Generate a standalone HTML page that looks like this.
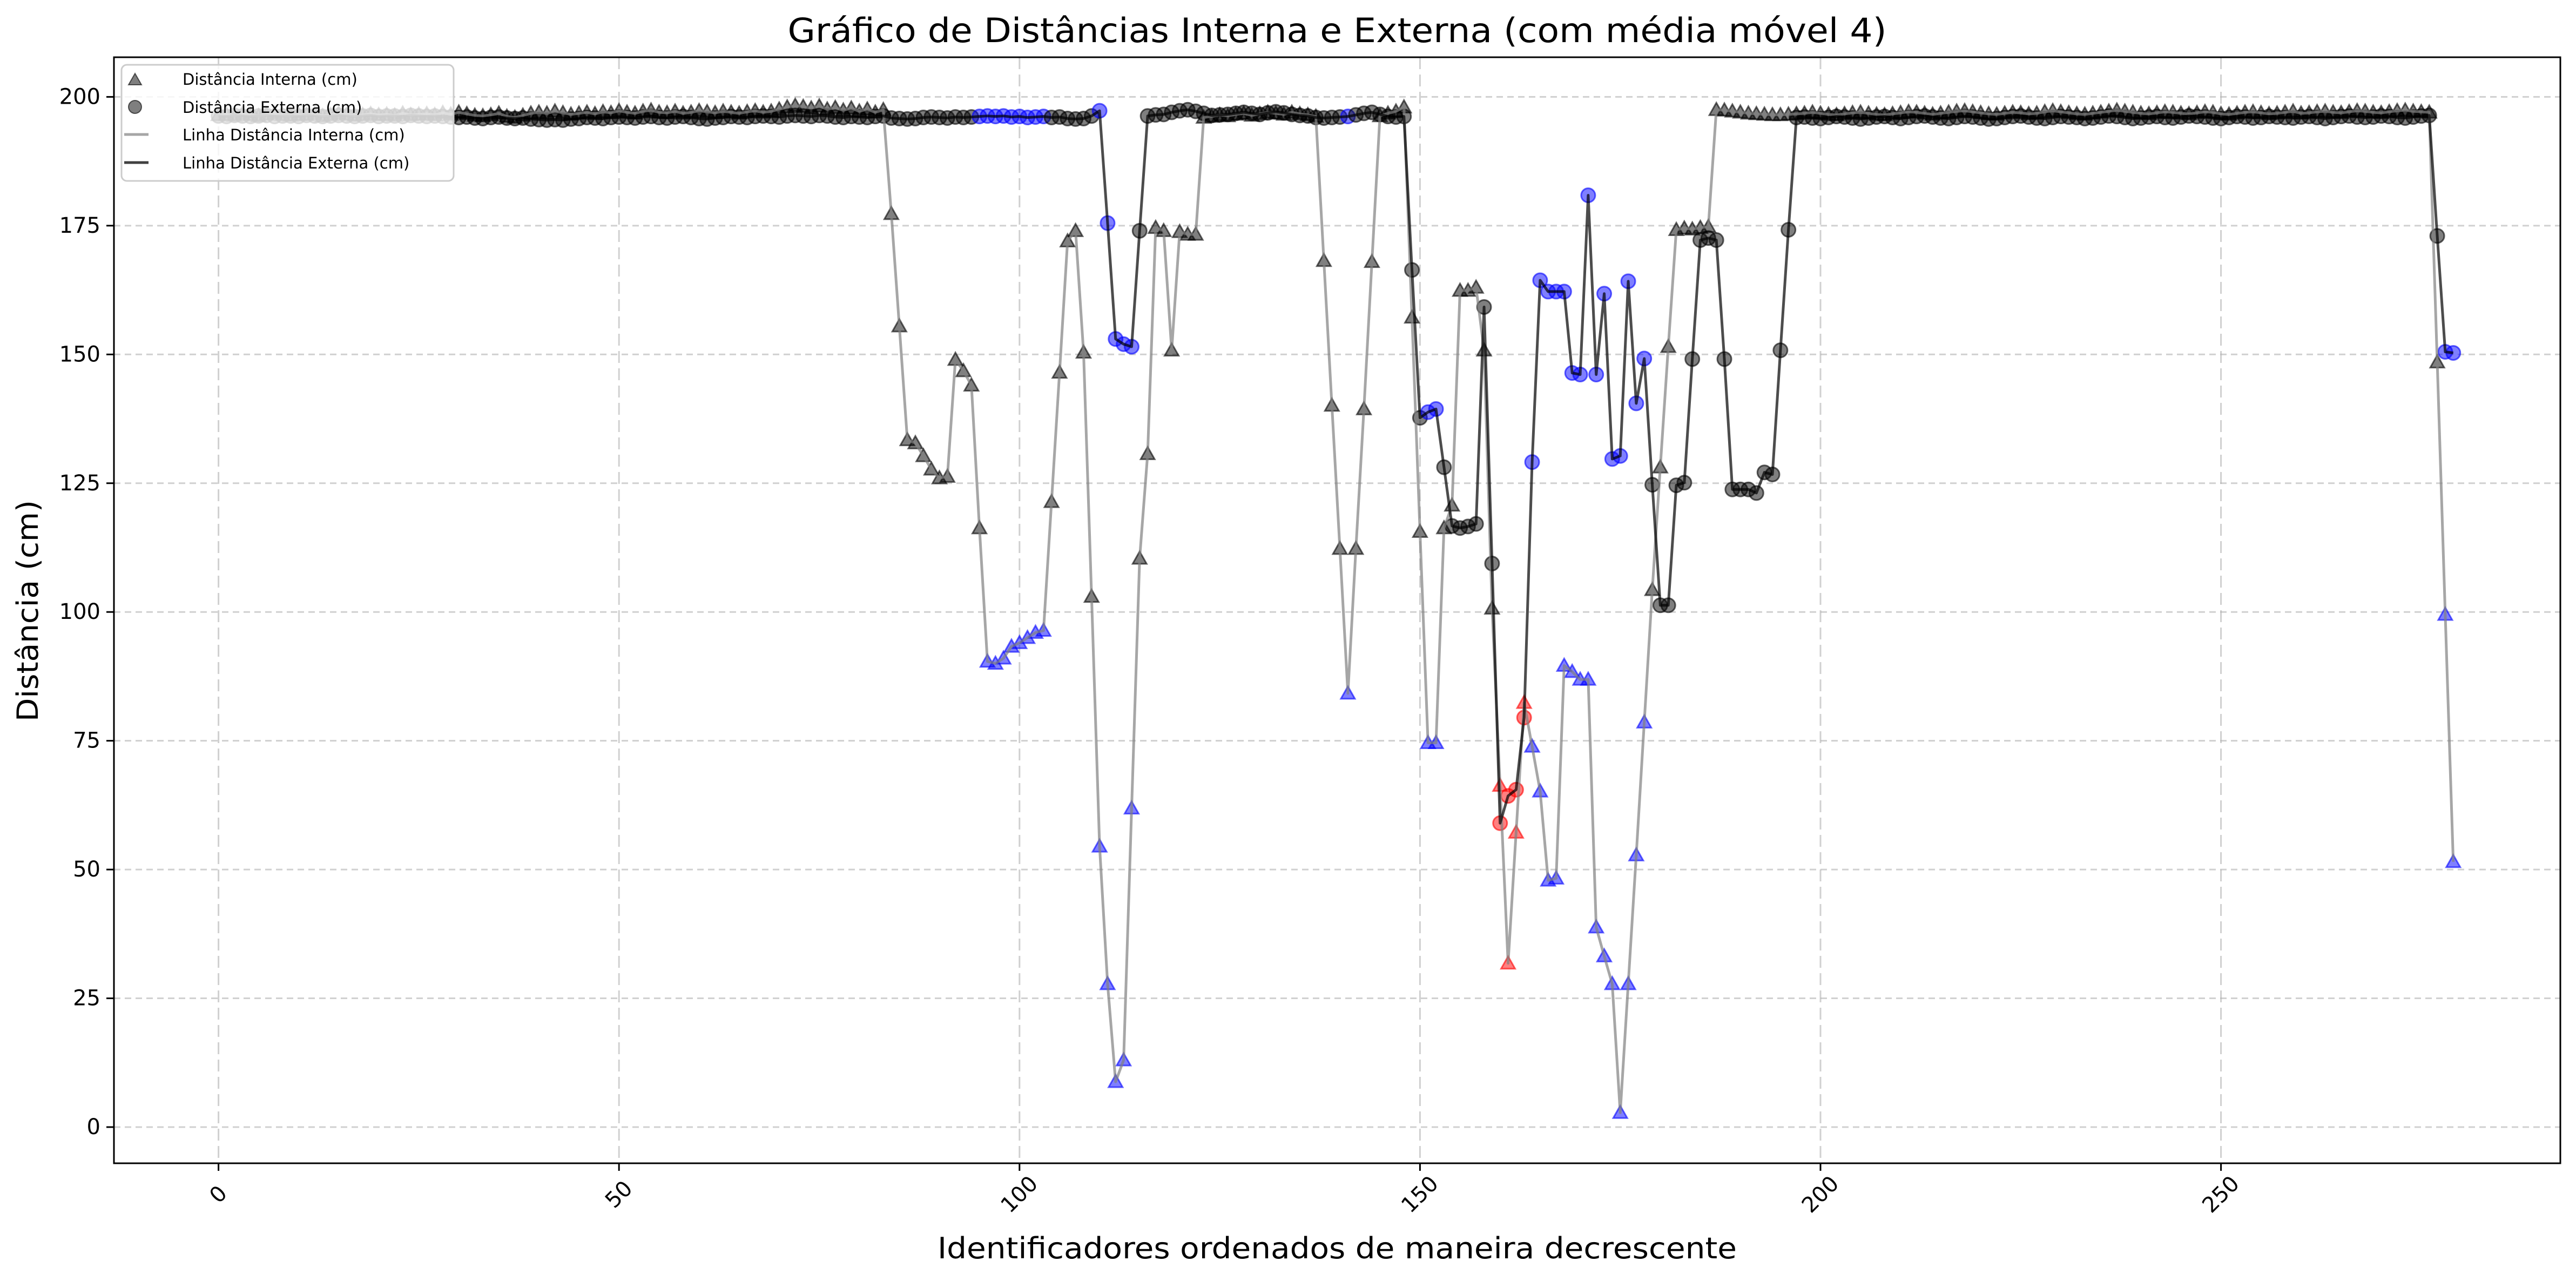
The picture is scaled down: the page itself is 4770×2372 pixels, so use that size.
<!DOCTYPE html>
<html><head><meta charset="utf-8"><style>
html,body{margin:0;padding:0;background:#fff;}
svg{display:block;font-family:"DejaVu Sans","Liberation Sans",sans-serif;}
</style></head><body>
<svg id="chart" width="4770" height="2372" viewBox="0 0 4770 2372" xmlns="http://www.w3.org/2000/svg">
<rect x="0" y="0" width="4770" height="2372" fill="#fff"/>
<g id="grid"></g>
<g id="series"></g>
<rect x="211" y="106" width="4530" height="2048" fill="none" stroke="#000" stroke-width="3"/>
<g id="ticks"></g>
<text x="2476" y="78" text-anchor="middle" font-size="62" textLength="2035" lengthAdjust="spacingAndGlyphs">Gráfico de Distâncias Interna e Externa (com média móvel 4)</text>
<text x="2476" y="2330" text-anchor="middle" font-size="54" textLength="1480" lengthAdjust="spacingAndGlyphs">Identificadores ordenados de maneira decrescente</text>
<text transform="translate(70,1131) rotate(-90)" text-anchor="middle" font-size="54" textLength="410" lengthAdjust="spacingAndGlyphs">Distância (cm)</text>
<g>
<rect x="225" y="120" width="615" height="215" rx="10" fill="#fff" fill-opacity="0.8" stroke="#ccc" stroke-width="3"/>
<polygon points="250,136 238,157 262,157" fill="rgba(0,0,0,0.5)" stroke="rgba(0,0,0,0.6)" stroke-width="2"/>
<text x="338" y="157" font-size="29">Distância Interna (cm)</text>
<circle cx="250" cy="198" r="12" fill="rgba(0,0,0,0.5)" stroke="rgba(0,0,0,0.6)" stroke-width="2"/>
<text x="338" y="209" font-size="29">Distância Externa (cm)</text>
<line x1="230" y1="249" x2="275" y2="249" stroke="#808080" stroke-opacity="0.7" stroke-width="5"/>
<text x="338" y="260" font-size="29">Linha Distância Interna (cm)</text>
<line x1="230" y1="301" x2="275" y2="301" stroke="#000" stroke-opacity="0.75" stroke-width="5"/>
<text x="338" y="312" font-size="29">Linha Distância Externa (cm)</text>
</g>
</svg>
<script>
const xTicks = [0, 50, 100, 150, 200, 250];
const yTicks = [0, 25, 50, 75, 100, 125, 150, 175, 200];
const interna = [
196.5,196.6,196.4,196.7,196.5,196.3,196.6,196.8,196.5,196.4,
196.6,196.5,196.7,196.3,196.5,196.8,196.6,196.4,196.5,196.7,
196.5,196.6,196.4,196.8,196.5,196.6,196.7,196.5,196.9,196.6,
197.0,196.7,196.4,196.3,196.5,196.8,196.2,196.0,196.4,196.8,
197.0,196.8,197.2,196.9,196.6,196.8,197.0,196.7,197.1,196.9,
197.3,197.0,196.8,197.2,197.4,197.0,196.9,197.2,196.8,197.0,
197.3,197.1,196.9,197.2,197.0,196.8,197.1,197.3,197.0,197.2,
197.6,198.0,198.3,198.1,197.8,198.2,197.6,197.9,197.4,197.8,
197.2,197.6,197.0,197.5,
177.3,155.5,133.4,132.8,130.3,127.7,126.0,126.3,149.0,146.8,144.0,116.3,
90.4,90.0,91.0,93.3,94.0,95.0,96.0,96.4,
121.4,146.5,172.0,174.0,150.4,103.0,54.5,27.8,8.8,13.0,61.9,110.4,130.7,174.6,174.0,150.8,173.8,173.3,173.3,
196.0,196.2,196.5,196.3,196.6,196.8,196.4,196.7,197.0,196.8,196.6,197.0,196.7,196.5,
196.2,
168.2,140.1,112.3,84.2,112.3,139.4,168.0,
196.3,196.8,197.2,198.0,
157.2,115.6,74.6,74.6,116.3,120.7,162.4,162.4,163.0,150.8,100.7,66.3,31.8,57.2,82.4,73.9,65.2,47.9,48.3,89.6,88.4,86.9,86.9,38.8,
33.2,27.8,2.8,27.8,52.8,78.6,104.3,128.1,151.5,174.2,174.5,174.3,174.6,174.8,
197.5,197.4,197.2,197.0,196.8,196.7,196.6,196.5,196.5,196.6,196.7,196.8,197.0,
196.8,196.6,196.5,196.7,196.9,197.0,196.8,196.6,196.5,196.7,
196.9,197.1,197.0,196.8,196.6,196.8,197.0,197.2,197.3,197.1,
196.9,196.7,196.6,196.8,197.0,196.9,196.7,196.8,197.1,197.3,
197.1,196.9,196.7,196.6,196.8,197.0,197.2,197.4,197.2,197.0,
196.8,196.7,196.9,197.1,197.0,196.8,196.7,196.9,197.1,197.0,
196.7,196.6,196.8,197.0,197.1,196.9,196.7,196.8,197.0,197.2,
196.8,196.9,197.1,197.2,197.0,196.9,197.1,197.3,197.2,197.0,
196.9,197.1,197.3,197.4,197.2,197.1,197.0,
148.5,99.5,51.5
];
const externa = [
196.3,196.2,196.4,196.3,196.2,196.3,196.4,196.2,196.3,196.3,
196.2,196.4,196.3,196.2,196.3,196.4,196.3,196.2,196.3,196.4,
196.2,196.3,196.3,196.2,196.4,196.3,196.2,196.3,196.2,196.1,
196.0,196.1,195.9,195.8,196.0,196.1,195.9,195.8,195.9,195.7,
195.6,195.5,195.6,195.5,195.7,195.8,196.0,195.9,195.8,196.0,
196.1,196.0,195.9,196.1,196.2,196.0,195.9,196.1,196.2,196.0,
195.8,195.7,195.9,196.0,196.2,196.1,196.0,196.2,196.3,196.2,
196.1,196.3,196.4,196.3,196.2,196.4,196.3,196.1,196.0,196.2,
196.1,196.0,196.2,196.3,195.9,195.8,195.7,195.8,196.0,196.1,
196.0,195.9,196.1,196.0,196.1,
196.2,196.3,196.2,196.3,196.1,196.2,196.0,196.1,196.2,
196.0,196.1,195.8,195.7,195.8,196.3,197.3,
175.5,153.0,152.0,151.5,174.0,
196.3,196.5,196.6,197.0,197.3,197.5,197.2,196.8,196.4,196.5,196.6,196.8,197.0,196.8,196.6,196.9,197.1,196.9,196.6,196.4,196.3,
196.0,195.9,196.0,196.1,196.2,196.5,196.8,197.0,196.6,196.2,196.1,196.2,
166.4,137.7,138.8,139.4,128.1,116.7,116.3,116.6,117.1,159.2,109.4,59.0,64.3,65.5,79.5,129.1,164.4,162.2,162.2,162.2,146.4,146.1,180.9,146.1,
161.8,129.7,130.3,164.2,140.5,149.2,124.7,101.3,101.3,124.6,125.1,149.1,172.2,172.6,172.2,149.1,123.8,123.8,123.8,123.1,127.1,126.7,150.8,174.2,196.0,
196.1,195.9,195.8,196.0,196.2,196.1,195.9,195.7,195.9,196.1,
196.2,196.0,195.8,196.0,196.2,196.3,196.1,195.9,195.8,196.0,
196.2,196.1,195.9,195.7,195.8,196.0,196.2,196.3,196.1,195.9,
195.8,196.0,196.2,196.1,196.0,195.8,195.9,196.1,196.3,196.2,
196.0,195.8,195.9,196.1,196.2,196.0,195.9,196.1,196.3,196.2,
196.1,195.9,195.8,196.0,196.2,196.1,195.9,196.0,196.2,196.1,
196.0,195.9,196.1,196.2,196.0,195.8,196.0,196.2,196.3,196.1,
196.0,196.1,196.3,196.2,196.0,195.9,196.1,196.3,196.4,
173.0,150.5,150.3
];
const blueIdxInterna = [96,97,98,99,100,101,102,103,110,111,112,113,114,141,151,152,164,165,166,167,168,169,170,171,172,173,174,175,176,177,178,278,279];
const redIdxInterna = [160,161,162,163];
const blueIdxExterna = [95,96,97,98,99,100,101,102,103,110,111,112,113,114,141,151,152,164,165,166,167,168,169,170,171,172,173,174,175,176,177,178,278,279];
const redIdxExterna = [160,161,162,163];

const NS = "http://www.w3.org/2000/svg";
const X0 = 404.6, XS = 14.832, Y0 = 2087, YS = 9.538;
function xs(i){ return X0 + i*XS; }
function ys(v){ return Y0 - v*YS; }
function mk(tag, attrs, parent){ const e = document.createElementNS(NS, tag); for (const k in attrs) e.setAttribute(k, attrs[k]); parent.appendChild(e); return e; }
const grid = document.getElementById('grid'), ticks = document.getElementById('ticks'), series = document.getElementById('series');

xTicks.forEach(t => {
  const x = xs(t);
  const g = mk('line', {x1:x, y1:106, x2:x, y2:2154, stroke:'#b0b0b0', 'stroke-opacity':0.6, 'stroke-width':3, 'stroke-dasharray':'22,10'}, grid);
  
  
  const tk = mk('line', {x1:x, y1:2154, x2:x, y2:2168, stroke:'#000', 'stroke-width':3}, ticks);
  
  
  const tl = mk('text', {x:0, y:0, 'text-anchor':'middle', 'dominant-baseline':'central', 'font-size':40, transform:'translate('+x+',2212) rotate(-45)'}, ticks);
  tl.textContent = String(t);
  
  
});
yTicks.forEach(t => {
  const y = ys(t);
  const g = mk('line', {x1:211, y1:y, x2:4741, y2:y, stroke:'#b0b0b0', 'stroke-opacity':0.6, 'stroke-width':3, 'stroke-dasharray':'12,8'}, grid);
  
  
  const tk = mk('line', {x1:197, y1:y, x2:211, y2:y, stroke:'#000', 'stroke-width':3}, ticks);
  
  
  const tl = mk('text', {x:186, y:y, 'text-anchor':'end', 'dominant-baseline':'central', 'font-size':40}, ticks);
  tl.textContent = String(t);
  
  
});

function colorOf(i, blues, reds){
  if (reds.indexOf(i) >= 0) return ['rgba(255,0,0,0.5)','rgba(255,0,0,0.6)'];
  if (blues.indexOf(i) >= 0) return ['rgba(0,0,255,0.5)','rgba(0,0,255,0.6)'];
  return ['rgba(0,0,0,0.5)','rgba(0,0,0,0.6)'];
}
interna.forEach((v,i) => {
  const x = xs(i), y = ys(v), c = colorOf(i, blueIdxInterna, redIdxInterna);
  const p = mk('polygon', {points:(x)+','+(y-13)+' '+(x-13)+','+(y+10)+' '+(x+13)+','+(y+10), fill:c[0], stroke:c[1], 'stroke-width':3}, series);
  
  
});
externa.forEach((v,i) => {
  const c = colorOf(i, blueIdxExterna, redIdxExterna);
  const p = mk('circle', {cx:xs(i), cy:ys(v), r:13, fill:c[0], stroke:c[1], 'stroke-width':3}, series);
  
  
});
const li = mk('polyline', {points:interna.map((v,i)=>xs(i)+','+ys(v)).join(' '), fill:'none', stroke:'#808080', 'stroke-opacity':0.7, 'stroke-width':5, 'stroke-linejoin':'round'}, series);


const le = mk('polyline', {points:externa.map((v,i)=>xs(i)+','+ys(v)).join(' '), fill:'none', stroke:'#000', 'stroke-opacity':0.7, 'stroke-width':5, 'stroke-linejoin':'round'}, series);


</script>
</body></html>
